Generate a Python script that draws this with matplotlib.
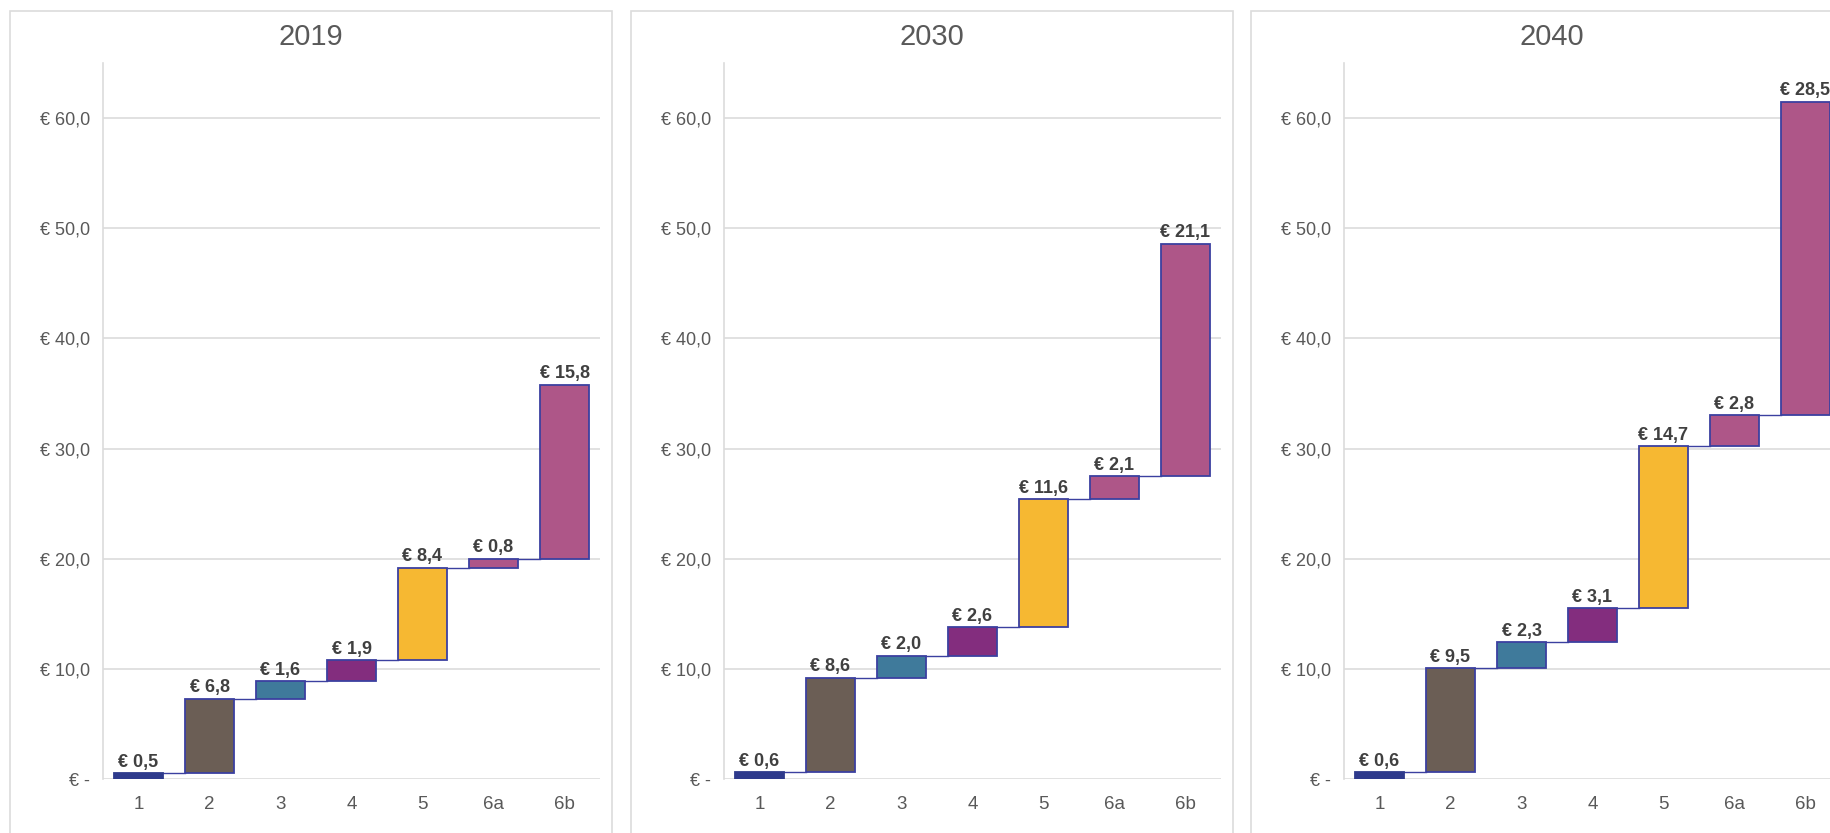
import matplotlib
matplotlib.use("Agg")
import matplotlib.pyplot as plt
from matplotlib.patches import Rectangle
import numpy as np

plt.rcParams['font.family'] = ['Liberation Sans', 'DejaVu Sans']

# waterfall steps per year (EUR)
categories = ["1", "2", "3", "4", "5", "6a", "6b"]
years = ["2019", "2030", "2040"]
steps_2019 = [0.5, 6.8, 1.6, 1.9, 8.4, 0.8, 15.8]
steps_2030 = [0.6, 8.6, 2.0, 2.6, 11.6, 2.1, 21.1]
steps_2040 = [0.6, 9.5, 2.3, 3.1, 14.7, 2.8, 28.5]
yticks = [0, 10, 20, 30, 40, 50, 60]

bar_colors = ["#2E3A8C", "#6B5E55", "#3F7A9B", "#832D7E", "#F6B832", "#AE5688", "#AE5688"]
edge_col = "#3B40A0"
grid_col = "#DCDCDC"
text_col = "#595959"
label_col = "#404040"

W, H = 1831, 833
fig = plt.figure(figsize=(W / 100, H / 100), dpi=100)

panel_left = [10, 631, 1251]
axis_off = 93
axis_w = 497
y0_px, ytop_px = 779, 63


def fmt(v):
    # accounting style: zero shown as a dash
    if v == 0:
        return "€ -"
    return "€ " + f"{v:.1f}".replace(".", ",")


for p, (year, steps) in enumerate(zip(years, [steps_2019, steps_2030, steps_2040])):
    # panel frame
    fig.patches.append(Rectangle((panel_left[p] / W, -0.1), 602 / W, (H - 11) / H + 0.1,
                                 transform=fig.transFigure, fill=False,
                                 edgecolor=grid_col, linewidth=1.2))
    fig.text((panel_left[p] + 301) / W, 1 - 37 / H, year, ha="center", va="center",
             fontsize=21, color=text_col)

    ax = fig.add_axes([(panel_left[p] + axis_off) / W, (H - y0_px) / H,
                       axis_w / W, (y0_px - ytop_px) / H])
    steps = np.array(steps)
    tops = np.cumsum(steps)
    bottoms = tops - steps
    x = np.arange(len(categories))

    for i in range(len(steps)):
        ec = bar_colors[0] if i == 0 else edge_col
        ax.bar(x[i], steps[i], bottom=bottoms[i], width=0.68, color=bar_colors[i],
               edgecolor=ec, linewidth=1.3, zorder=3)
        ax.text(x[i], tops[i] + 0.2, fmt(steps[i]), ha="center", va="bottom",
                fontsize=13, fontweight="bold", color=label_col, zorder=4)
        if i < len(steps) - 1:
            ax.plot([x[i] + 0.34, x[i + 1] - 0.34], [tops[i], tops[i]],
                    color=edge_col, linewidth=1.0, zorder=2)

    ax.set_xlim(-0.5, len(categories) - 0.5)
    ax.set_ylim(0, 65)
    ax.set_xticks(x)
    ax.set_xticklabels(categories)
    ax.set_yticks(yticks)
    ax.set_yticklabels([fmt(v) for v in yticks])
    ax.tick_params(axis="y", length=0, pad=9.5, labelsize=13, labelcolor=text_col)
    ax.tick_params(axis="x", length=0, pad=12.5, labelsize=13.5, labelcolor=text_col)
    ax.grid(axis="y", color=grid_col, linewidth=1.2, zorder=0)
    for s in ["top", "right", "bottom"]:
        ax.spines[s].set_visible(False)
    ax.spines["left"].set_color(grid_col)
    ax.spines["left"].set_linewidth(1.2)

fig.savefig("out.png", dpi=100)
